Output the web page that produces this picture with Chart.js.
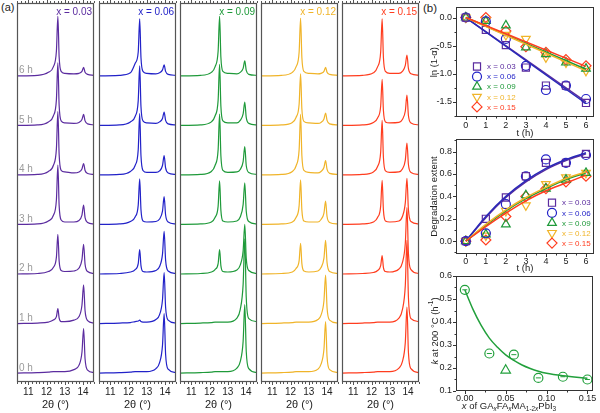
<!DOCTYPE html>
<html>
<head>
<meta charset="utf-8">
<script src="https://cdn.jsdelivr.net/npm/chart.js@4.4.1/dist/chart.umd.min.js"></script>
<style>
  body { margin: 0; width: 600px; height: 413px; overflow: hidden; position: relative; background: #fff;
         font-family: 'Liberation Sans', Arial, sans-serif; }
  .box { position: absolute; }
  .tag { position: absolute; font-size: 11px; color: #222; line-height: 1; }
</style>
</head>
<body>
<div class="tag" style="left:1px;top:2px">(a)</div>
<div class="tag" style="left:423px;top:3px;font-size:11.5px">(b)</div>

<script>
// ---------- panel (a): XRD patterns ----------
const compositions = ['x = 0.03', 'x = 0.06', 'x = 0.09', 'x = 0.12', 'x = 0.15'];
const hours = [0, 1, 2, 3, 4, 5, 6];
const hourLabels = ['0 h', '1 h', '2 h', '3 h', '4 h', '5 h', '6 h'];
const twoThetaTicks = [11, 12, 13, 14];

// 2θ sample positions read for each composition
const twoTheta03 = [10.38, 11.5, 12.1, 12.37, 12.54, 12.62, 12.69, 12.80, 13.0, 13.5, 13.78, 13.94, 14.03, 14.11, 14.25, 14.6];
const twoTheta06 = [10.38, 11.5, 12.1, 12.36, 12.53, 12.61, 12.68, 12.79, 13.0, 13.5, 13.70, 13.86, 13.95, 14.03, 14.17, 14.6];
const twoTheta09 = [10.38, 11.5, 12.1, 12.30, 12.47, 12.55, 12.62, 12.73, 13.0, 13.5, 13.68, 13.84, 13.93, 14.01, 14.15, 14.6];
const twoTheta12 = [10.38, 11.5, 12.1, 12.30, 12.47, 12.55, 12.62, 12.73, 13.0, 13.5, 13.67, 13.83, 13.92, 14.00, 14.14, 14.6];
const twoTheta15 = [10.38, 11.5, 12.1, 12.33, 12.50, 12.58, 12.65, 12.76, 13.0, 13.5, 13.69, 13.85, 13.94, 14.02, 14.16, 14.6];

// normalised intensity, one row per hour (0 h ... 6 h)
const xrd03 = [
  [0, 0.01, 0.02, 0.03, 0.03, 0.03, 0.03, 0.03, 0.03, 0.07, 0.16, 0.42, 0.90, 0.29, 0.06, 0.01],
  [0, 0.01, 0.03, 0.07, 0.14, 0.30, 0.11, 0.04, 0.04, 0.07, 0.14, 0.37, 0.78, 0.26, 0.06, 0.01],
  [0, 0.01, 0.05, 0.13, 0.34, 0.80, 0.26, 0.07, 0.05, 0.06, 0.12, 0.29, 0.60, 0.20, 0.05, 0.01],
  [0, 0.01, 0.07, 0.18, 0.50, 1.20, 0.38, 0.09, 0.05, 0.05, 0.08, 0.19, 0.39, 0.14, 0.04, 0.01],
  [0, 0.01, 0.07, 0.19, 0.53, 1.28, 0.41, 0.09, 0.06, 0.04, 0.06, 0.12, 0.23, 0.09, 0.03, 0.01],
  [0, 0.01, 0.07, 0.19, 0.52, 1.26, 0.40, 0.09, 0.05, 0.04, 0.06, 0.12, 0.22, 0.09, 0.03, 0.01],
  [0, 0.01, 0.07, 0.18, 0.50, 1.20, 0.38, 0.09, 0.05, 0.04, 0.05, 0.09, 0.17, 0.07, 0.03, 0.01]
];
const xrd06 = [
  [0, 0.01, 0.02, 0.03, 0.03, 0.03, 0.03, 0.03, 0.03, 0.09, 0.21, 0.56, 1.20, 0.38, 0.08, 0.01],
  [0, 0.01, 0.02, 0.04, 0.05, 0.07, 0.04, 0.03, 0.03, 0.08, 0.18, 0.48, 1.03, 0.33, 0.07, 0.01],
  [0, 0.01, 0.04, 0.09, 0.21, 0.49, 0.17, 0.05, 0.04, 0.07, 0.15, 0.40, 0.86, 0.28, 0.06, 0.01],
  [0, 0.01, 0.06, 0.15, 0.39, 0.92, 0.30, 0.07, 0.05, 0.06, 0.11, 0.27, 0.56, 0.19, 0.05, 0.01],
  [0, 0.01, 0.07, 0.19, 0.51, 1.24, 0.39, 0.09, 0.05, 0.05, 0.08, 0.19, 0.39, 0.14, 0.04, 0.01],
  [0, 0.01, 0.07, 0.18, 0.50, 1.20, 0.38, 0.09, 0.05, 0.04, 0.07, 0.14, 0.27, 0.10, 0.03, 0.01],
  [0, 0.01, 0.06, 0.25, 0.48, 1.15, 0.37, 0.09, 0.05, 0.04, 0.06, 0.12, 0.22, 0.09, 0.03, 0.01]
];
const xrd09 = [
  [0, 0.01, 0.02, 0.03, 0.03, 0.03, 0.03, 0.03, 0.03, 0.10, 0.23, 0.64, 1.38, 0.44, 0.09, 0.01],
  [0, 0.01, 0.02, 0.03, 0.03, 0.03, 0.03, 0.03, 0.03, 0.11, 0.28, 0.79, 1.71, 0.53, 0.10, 0.04],
  [0, 0.01, 0.04, 0.09, 0.21, 0.49, 0.17, 0.05, 0.04, 0.08, 0.18, 0.47, 1.00, 0.32, 0.07, 0.01],
  [0, 0.01, 0.05, 0.14, 0.37, 0.88, 0.29, 0.07, 0.05, 0.07, 0.15, 0.40, 0.84, 0.27, 0.06, 0.01],
  [0, 0.01, 0.07, 0.19, 0.51, 1.23, 0.39, 0.09, 0.05, 0.06, 0.11, 0.27, 0.57, 0.19, 0.05, 0.01],
  [0, 0.01, 0.07, 0.19, 0.51, 1.23, 0.39, 0.09, 0.05, 0.05, 0.10, 0.23, 0.47, 0.16, 0.04, 0.01],
  [0, 0.01, 0.07, 0.18, 0.50, 1.20, 0.38, 0.09, 0.05, 0.04, 0.07, 0.15, 0.30, 0.11, 0.03, 0.01]
];
const xrd12 = [
  [0, 0.01, 0.02, 0.03, 0.03, 0.03, 0.03, 0.03, 0.03, 0.08, 0.18, 0.48, 1.04, 0.33, 0.07, 0.01],
  [0, 0.01, 0.02, 0.03, 0.03, 0.03, 0.03, 0.03, 0.03, 0.08, 0.17, 0.46, 0.98, 0.32, 0.07, 0.01],
  [0, 0.01, 0.04, 0.11, 0.27, 0.62, 0.21, 0.06, 0.04, 0.06, 0.13, 0.32, 0.68, 0.23, 0.05, 0.01],
  [0, 0.01, 0.05, 0.14, 0.38, 0.90, 0.29, 0.07, 0.05, 0.05, 0.10, 0.23, 0.47, 0.16, 0.04, 0.01],
  [0, 0.01, 0.07, 0.18, 0.51, 1.22, 0.39, 0.09, 0.05, 0.04, 0.07, 0.15, 0.29, 0.11, 0.03, 0.01],
  [0, 0.01, 0.06, 0.16, 0.43, 1.04, 0.33, 0.08, 0.05, 0.04, 0.06, 0.13, 0.25, 0.10, 0.03, 0.01],
  [0, 0.01, 0.07, 0.18, 0.48, 1.16, 0.37, 0.09, 0.05, 0.04, 0.05, 0.09, 0.17, 0.07, 0.03, 0.01]
];
const xrd15 = [
  [0, 0.01, 0.02, 0.03, 0.03, 0.03, 0.03, 0.03, 0.03, 0.10, 0.23, 0.62, 1.33, 0.42, 0.09, 0.01],
  [0, 0.01, 0.02, 0.03, 0.03, 0.03, 0.03, 0.03, 0.03, 0.11, 0.28, 0.77, 1.68, 0.53, 0.10, 0.04],
  [0, 0.01, 0.03, 0.07, 0.17, 0.37, 0.13, 0.05, 0.04, 0.10, 0.23, 0.62, 1.34, 0.42, 0.09, 0.01],
  [0, 0.01, 0.05, 0.14, 0.37, 0.89, 0.29, 0.07, 0.05, 0.07, 0.16, 0.44, 0.93, 0.30, 0.06, 0.01],
  [0, 0.01, 0.06, 0.17, 0.46, 1.10, 0.35, 0.08, 0.05, 0.06, 0.12, 0.30, 0.64, 0.21, 0.05, 0.01],
  [0, 0.01, 0.06, 0.15, 0.39, 0.93, 0.30, 0.07, 0.05, 0.06, 0.12, 0.29, 0.61, 0.20, 0.05, 0.01],
  [0, 0.01, 0.06, 0.18, 0.48, 1.15, 0.37, 0.09, 0.05, 0.05, 0.09, 0.21, 0.42, 0.15, 0.04, 0.01]
];

// ---------- panel (b) ----------
const tHours = [0, 1, 2, 3, 4, 5, 6];
const ln03 = [0, -0.22, -0.49, -0.89, -1.21, -1.21, -1.52];
const ln06 = [0, -0.07, -0.38, -0.86, -1.29, -1.21, -1.45];
const ln09 = [0, -0.06, -0.14, -0.53, -0.65, -0.80, -0.91];
const ln12 = [0, -0.05, -0.31, -0.38, -0.71, -0.80, -0.95];
const ln15 = [0, 0.00, -0.24, -0.52, -0.62, -0.75, -0.86];
// straight fits, value at t = 0 and t = 6
const fitT = [0, 6];
const fitLn03 = [0, -1.50];
const fitLn06 = [0, -1.53];
const fitLn09 = [0, -0.92];
const fitLn12 = [0, -0.95];
const fitLn15 = [0, -0.87];

const deg03 = [0, 0.20, 0.39, 0.58, 0.70, 0.70, 0.78];
const deg06 = [0, 0.07, 0.33, 0.58, 0.73, 0.70, 0.77];
const deg09 = [0, 0.06, 0.15, 0.41, 0.47, 0.55, 0.61];
const deg12 = [0, 0.05, 0.27, 0.32, 0.51, 0.57, 0.61];
const deg15 = [0, 0.01, 0.22, 0.40, 0.47, 0.53, 0.58];
// fitted curves read at each hour
const fitDeg03 = [0, 0.21, 0.39, 0.53, 0.64, 0.72, 0.78];
const fitDeg06 = [0, 0.22, 0.40, 0.54, 0.65, 0.73, 0.79];
const fitDeg09 = [0, 0.14, 0.27, 0.38, 0.47, 0.55, 0.61];
const fitDeg12 = [0, 0.15, 0.28, 0.39, 0.48, 0.56, 0.62];
const fitDeg15 = [0, 0.13, 0.25, 0.36, 0.45, 0.52, 0.59];

const kX = [0, 0.03, 0.06, 0.09, 0.12, 0.15];
const kVal = [0.54, 0.263, 0.258, 0.157, 0.162, 0.150];
const kExtraX = [0.05];
const kExtraVal = [0.19];
const kFitX = [0, 0.01, 0.02, 0.03, 0.04, 0.05, 0.06, 0.07, 0.08, 0.09, 0.10, 0.12, 0.15];
const kFitVal = [0.54, 0.455, 0.385, 0.33, 0.29, 0.257, 0.233, 0.213, 0.198, 0.186, 0.177, 0.166, 0.155];

// ---------- styling ----------
const FAMILY = "'Liberation Sans', Arial, sans-serif";
const seriesColors = ['#5b2c9f', '#2222c8', '#1f9a3a', '#f0b429', '#ff3d1f'];
const markerStyles = [
  { pointStyle: 'rect', radius: 5, rotation: 0 },
  { pointStyle: 'circle', radius: 4.5, rotation: 0 },
  { pointStyle: 'triangle', radius: 5, rotation: 0 },
  { pointStyle: 'triangle', radius: 5, rotation: 180 },
  { pointStyle: 'rectRot', radius: 5, rotation: 0 }
];
const panelLeft = [17, 99, 180, 261, 342];

Chart.defaults.font.family = FAMILY;
Chart.defaults.color = '#222';
Chart.defaults.animation = false;
Chart.defaults.plugins.legend.display = false;
Chart.defaults.plugins.tooltip.enabled = false;

// frame around the plot area plus major / minor tick marks
const frameTicks = {
  id: 'frameTicks',
  afterDraw(chart, args, o) {
    const { ctx, chartArea: a, scales } = chart;
    ctx.save();
    ctx.strokeStyle = o.color;
    ctx.lineWidth = o.width;
    ctx.strokeRect(Math.round(a.left) + 0.5, Math.round(a.top) + 0.5,
      Math.round(a.right - a.left) - 1, Math.round(a.bottom - a.top) - 1);
    ctx.lineWidth = 1;
    ['x', 'y'].forEach(id => {
      const t = o[id];
      if (!t) return;
      const sc = scales[id];
      const n0 = Math.ceil(sc.min / t.minor - 1e-6), n1 = Math.floor(sc.max / t.minor + 1e-6);
      for (let n = n0; n <= n1; n++) {
        const major = ((n % t.ratio) + t.ratio) % t.ratio === 0;
        const len = major ? o.major : o.minor;
        const p = Math.round(sc.getPixelForValue(n * t.minor)) + 0.5;
        t.sides.forEach(side => {
          ctx.beginPath();
          if (side === 'bottom') { ctx.moveTo(p, a.bottom); ctx.lineTo(p, a.bottom + len); }
          if (side === 'top') { ctx.moveTo(p, a.top); ctx.lineTo(p, a.top - len); }
          if (side === 'left') { ctx.moveTo(a.left, p); ctx.lineTo(a.left - len, p); }
          ctx.stroke();
        });
      }
    });
    ctx.restore();
  }
};

// composition label and hour labels inside the XRD panels
const panelText = {
  id: 'panelText',
  afterDraw(chart, args, o) {
    const { ctx, chartArea: a, scales: { y } } = chart;
    ctx.save();
    ctx.font = '10px ' + FAMILY;
    ctx.fillStyle = o.color;
    ctx.textAlign = 'right';
    ctx.textBaseline = 'middle';
    ctx.fillText(o.title, a.right - 2, a.top + 9.5);
    if (o.showHours) {
      ctx.fillStyle = '#9a9a9a';
      ctx.textAlign = 'left';
      ctx.textBaseline = 'alphabetic';
      hours.forEach((h, i) => ctx.fillText(hourLabels[i], a.left + 2, y.getPixelForValue(h) - 2.5));
    }
    ctx.restore();
  }
};

function drawMarker(ctx, style, x, y) {
  const r = style.radius;
  ctx.beginPath();
  if (style.pointStyle === 'rect') {
    const s = Math.SQRT1_2 * r;
    ctx.rect(x - s, y - s, 2 * s, 2 * s);
  } else if (style.pointStyle === 'circle') {
    ctx.arc(x, y, r, 0, Math.PI * 2);
  } else if (style.pointStyle === 'triangle') {
    const d = style.rotation ? -1 : 1;
    ctx.moveTo(x, y - d * r);
    ctx.lineTo(x + r * 0.866, y + d * r * 0.5);
    ctx.lineTo(x - r * 0.866, y + d * r * 0.5);
    ctx.closePath();
  } else {
    ctx.moveTo(x, y - r); ctx.lineTo(x + r, y); ctx.lineTo(x, y + r); ctx.lineTo(x - r, y);
    ctx.closePath();
  }
  ctx.stroke();
}

// legend drawn inside the plot at a fixed spot
function drawLegend(chart, o) {
  const { ctx } = chart;
  ctx.save();
  ctx.font = '8px ' + FAMILY;
  ctx.textBaseline = 'middle';
  compositions.forEach((c, i) => {
    const yy = o.y + i * o.step;
    ctx.strokeStyle = seriesColors[i];
    ctx.lineWidth = 1.2;
    drawMarker(ctx, markerStyles[i], o.x, yy);
    ctx.fillStyle = seriesColors[i];
    ctx.fillText(c, o.x + 10, yy + 0.5);
  });
  ctx.restore();
}

const innerLegend = {
  id: 'innerLegend',
  afterDraw(chart, args, o) { if (o.x) drawLegend(chart, o); }
};

// axis titles with italics, sub- and superscripts
const richTitles = {
  id: 'richTitles',
  afterDraw(chart, args, o) {
    if (!o.items) return;
    const { ctx } = chart;
    o.items.forEach(it => {
      const fontFor = p => `${p.i ? 'italic ' : ''}${p.s ? it.size * 0.68 : it.size}px ${FAMILY}`;
      ctx.save();
      ctx.translate(it.x, it.y);
      ctx.rotate(it.rot || 0);
      let w = 0;
      it.parts.forEach(p => { ctx.font = fontFor(p); w += ctx.measureText(p.t).width; });
      let x = -w / 2;
      ctx.textBaseline = 'middle';
      ctx.textAlign = 'left';
      ctx.fillStyle = '#222';
      it.parts.forEach(p => {
        ctx.font = fontFor(p);
        const dy = p.s === 'sub' ? it.size * 0.3 : p.s === 'sup' ? -it.size * 0.35 : 0;
        ctx.fillText(p.t, x, dy);
        x += ctx.measureText(p.t).width;
      });
      ctx.restore();
    });
  }
};

function makeBox(left, top, w, h) {
  const d = document.createElement('div');
  d.className = 'box';
  d.style.cssText = `left:${left}px;top:${top}px;width:${w}px;height:${h}px`;
  const c = document.createElement('canvas');
  d.appendChild(c);
  document.body.appendChild(d);
  return c;
}

// ---------- build panel (a) ----------
const xrdPanels = [
  { grid: twoTheta03, traces: xrd03 },
  { grid: twoTheta06, traces: xrd06 },
  { grid: twoTheta09, traces: xrd09 },
  { grid: twoTheta12, traces: xrd12 },
  { grid: twoTheta15, traces: xrd15 }
];

xrdPanels.forEach((p, i) => {
  const canvas = makeBox(panelLeft[i] - 6, 0, 89, 413);
  new Chart(canvas, {
    type: 'scatter',
    data: {
      datasets: p.traces.map((tr, h) => ({
        data: p.grid.map((tt, k) => ({ x: tt, y: tr[k] + hours[h] })),
        showLine: true,
        borderColor: seriesColors[i],
        borderWidth: 1.2,
        pointRadius: 0,
        cubicInterpolationMode: 'monotone'
      }))
    },
    options: {
      responsive: true,
      maintainAspectRatio: false,
      devicePixelRatio: 1,
      layout: { padding: { left: 6, right: 6, top: 3, bottom: 0 } },
      scales: {
        x: {
          type: 'linear', min: 10.38, max: 14.6,
          afterFit: s => { s.height = 31; },
          afterBuildTicks: s => { s.ticks = twoThetaTicks.map(v => ({ value: v })); },
          ticks: { padding: 1, font: { size: 10 }, color: '#222', maxRotation: 0, autoSkip: false },
          grid: { display: false, drawTicks: true, tickLength: 3 },
          border: { display: false },
          title: { display: true, text: '2θ (°)', color: '#222', font: { size: 11, lineHeight: 1.2 }, padding: { top: 0, bottom: 1 } }
        },
        y: { display: false, min: -0.18, max: 7.47 }
      },
      plugins: {
        frameTicks: { color: '#555', width: 1.2, major: 3, minor: 2,
          x: { minor: 0.2, ratio: 5, sides: ['bottom', 'top'] } },
        panelText: { title: compositions[i], color: seriesColors[i], showHours: i === 0 }
      }
    },
    plugins: [frameTicks, panelText]
  });
});

// ---------- build panel (b) ----------
const fitBlue = '#2a2ab8';

function pts(xs, ys) { return xs.map((x, k) => ({ x, y: ys[k] })); }

function markerSets(values) {
  return values.map((vals, i) => ({
    data: pts(tHours, vals),
    showLine: false,
    borderColor: seriesColors[i],
    backgroundColor: 'rgba(0,0,0,0)',
    borderWidth: 1.2,
    pointStyle: markerStyles[i].pointStyle,
    pointRadius: markerStyles[i].radius,
    rotation: markerStyles[i].rotation
  }));
}

function lineSets(xs, values, colors) {
  return values.map((vals, i) => ({
    data: pts(xs, vals),
    showLine: true,
    borderColor: colors[i],
    borderWidth: 1.5,
    pointRadius: 0,
    cubicInterpolationMode: 'monotone'
  }));
}

function baseScales(xr, yr, xTitle, yTitle, xH, yTitlePad, xTitlePad, labelGap) {
  return {
    x: {
      type: 'linear', min: xr.min, max: xr.max,
      afterFit: s => { s.height = xH; },
      ticks: { stepSize: xr.step, includeBounds: false, padding: labelGap, font: { size: 9 }, color: '#222',
        maxRotation: 0, autoSkip: false, callback: v => v.toFixed(xr.dec) },
      grid: { display: false, drawTicks: true, tickLength: 1 },
      border: { display: false },
      title: { display: !!xTitle, text: xTitle, color: '#222', font: { size: 9.5, lineHeight: 1.2 }, padding: { top: 0, bottom: xTitlePad } }
    },
    y: {
      type: 'linear', min: yr.min, max: yr.max,
      afterFit: s => { s.width = 36; },
      ticks: { stepSize: yr.step, includeBounds: false, padding: 2, font: { size: 9 }, color: '#222',
        autoSkip: false, callback: v => v.toFixed(yr.dec) },
      grid: { display: false, drawTicks: true, tickLength: 2 },
      border: { display: false },
      title: { display: !!yTitle, text: yTitle, color: '#222', font: { size: 9.5, lineHeight: 1.2 }, padding: { top: yTitlePad, bottom: yTitlePad } }
    }
  };
}

const fitColors = [seriesColors[4], seriesColors[3], seriesColors[2], fitBlue, seriesColors[0]];

// top: ln(1-α) vs t
new Chart(makeBox(420, 0, 180, 145), {
  type: 'scatter',
  data: {
    datasets: [
      ...lineSets(fitT, [fitLn15, fitLn12, fitLn09, fitLn06, fitLn03], fitColors),
      ...markerSets([ln03, ln06, ln09, ln12, ln15])
    ]
  },
  options: {
    responsive: true, maintainAspectRatio: false, devicePixelRatio: 1,
    layout: { padding: { left: 0, right: 4, top: 7, bottom: 0 } },
    scales: baseScales({ min: -0.49, max: 6.39, step: 1, dec: 0 }, { min: -1.77, max: 0.18, step: 0.5, dec: 1 },
      't (h)', 'ln (1-α)', 28, 8.3, 6.3, 2),
    plugins: {
      frameTicks: { color: '#333', width: 1, major: 3, minor: 1.5,
        x: { minor: 0.5, ratio: 2, sides: ['bottom'] }, y: { minor: 0.25, ratio: 2, sides: ['left'] } },
      innerLegend: { x: 57, y: 66.5, step: 10.1 }
    }
  },
  plugins: [frameTicks, innerLegend]
});

// middle: degradation extent vs t
new Chart(makeBox(420, 130, 180, 145), {
  type: 'scatter',
  data: {
    datasets: [
      ...lineSets(tHours, [fitDeg15, fitDeg12, fitDeg09, fitDeg06, fitDeg03], fitColors),
      ...markerSets([deg03, deg06, deg09, deg12, deg15])
    ]
  },
  options: {
    responsive: true, maintainAspectRatio: false, devicePixelRatio: 1,
    layout: { padding: { left: 0, right: 4, top: 9, bottom: 0 } },
    scales: baseScales({ min: -0.49, max: 6.39, step: 1, dec: 0 }, { min: -0.115, max: 0.913, step: 0.2, dec: 1 },
      't (h)', 'Degradation extent', 21, 8.3, 1.3, 1),
    plugins: {
      frameTicks: { color: '#333', width: 1, major: 3, minor: 1.5,
        x: { minor: 0.5, ratio: 2, sides: ['bottom'] }, y: { minor: 0.1, ratio: 2, sides: ['left'] } },
      innerLegend: { x: 132, y: 72.7, step: 10.1 }
    }
  },
  plugins: [frameTicks, innerLegend]
});

// bottom: k vs x
new Chart(makeBox(420, 265, 180, 148), {
  type: 'scatter',
  data: {
    datasets: [
      { data: pts(kFitX, kFitVal), showLine: true, borderColor: '#22a03c', borderWidth: 1.5, pointRadius: 0, cubicInterpolationMode: 'monotone' },
      { data: pts(kX, kVal), showLine: false, borderColor: '#22a03c', backgroundColor: 'rgba(0,0,0,0)', borderWidth: 1.2, pointStyle: 'circle', pointRadius: 4.5 },
      { data: pts(kX, kVal), showLine: false, borderColor: '#22a03c', borderWidth: 1, pointStyle: 'line', pointRadius: 2.5 },
      { data: pts(kExtraX, kExtraVal), showLine: false, borderColor: '#22a03c', backgroundColor: 'rgba(0,0,0,0)', borderWidth: 1.2, pointStyle: 'triangle', pointRadius: 5.5 }
    ]
  },
  options: {
    responsive: true, maintainAspectRatio: false, devicePixelRatio: 1,
    layout: { padding: { left: 0, right: 4, top: 11, bottom: 0 } },
    scales: baseScales({ min: -0.0108, max: 0.1572, step: 0.05, dec: 2 }, { min: 0.1, max: 0.6, step: 0.1, dec: 1 },
      '', '', 22, 8.3, 1.3, 1),
    plugins: {
      frameTicks: { color: '#333', width: 1, major: 3, minor: 1.5,
        x: { minor: 0.025, ratio: 2, sides: ['bottom'] }, y: { minor: 0.05, ratio: 2, sides: ['left'] } },
      richTitles: { items: [
        { x: 89, y: 141, size: 9.5, parts: [
          { t: 'x', i: true }, { t: ' of GA' }, { t: 'x', s: 'sub', i: true }, { t: 'FA' }, { t: 'x', s: 'sub', i: true },
          { t: 'MA' }, { t: '1-2', s: 'sub' }, { t: 'x', s: 'sub', i: true }, { t: 'PbI' }, { t: '3', s: 'sub' }] },
        { x: 15, y: 66, size: 9.5, rot: -Math.PI / 2, parts: [
          { t: 'k', i: true }, { t: ' at 200 °C (h' }, { t: '-1', s: 'sup' }, { t: ')' }] }
      ] }
    }
  },
  plugins: [frameTicks, richTitles]
});
</script>
</body>
</html>
